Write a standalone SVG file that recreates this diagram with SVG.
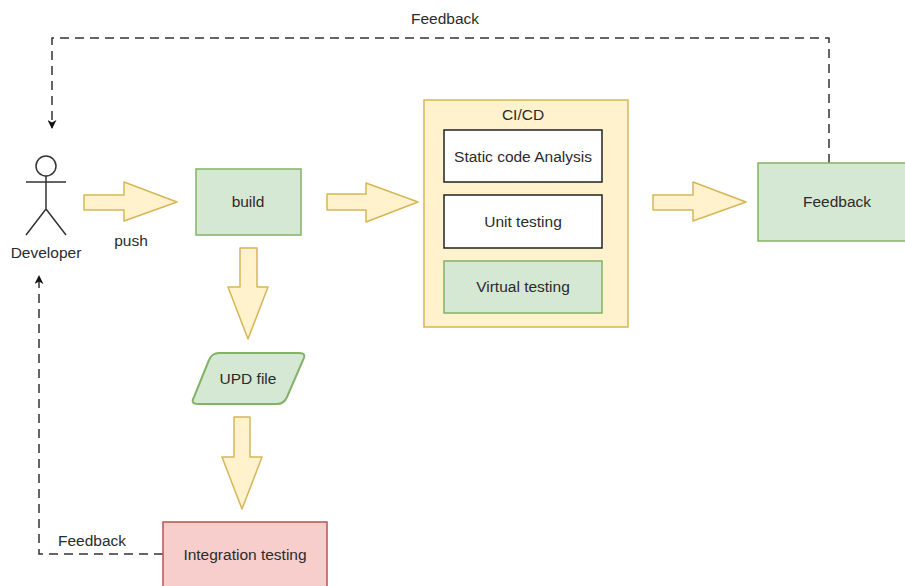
<svg xmlns="http://www.w3.org/2000/svg" width="905" height="586" viewBox="0 0 905 586">
  <style>
    text { font-family: "Liberation Sans", Arial, sans-serif; font-size: 15.5px; fill: #2b2b2b; text-anchor: middle; dominant-baseline: central; }
    .green { fill: #d5e8d4; stroke: #82b366; stroke-width: 1.5; }
    .yellow { fill: #fff2cc; stroke: #d6b656; stroke-width: 1.5; }
    .white { fill: #ffffff; stroke: #222222; stroke-width: 1.5; }
    .red { fill: #f8cecc; stroke: #b85450; stroke-width: 1.5; }
    .flex { fill: #fff2cc; stroke: #d6b656; stroke-width: 1.5; stroke-linejoin: round; }
    .dash { fill: none; stroke: #333333; stroke-width: 1.5; stroke-dasharray: 9 6; }
    .actor { fill: none; stroke: #333333; stroke-width: 1.5; }
  </style>
  <defs>
    <marker id="arr" viewBox="0 0 10 10" refX="9" refY="5" markerWidth="9" markerHeight="9" orient="auto" markerUnits="userSpaceOnUse">
      <path d="M0,0 L10,5 L0,10 L3,5 z" fill="#111111"/>
    </marker>
  </defs>
  <rect width="905" height="586" fill="#ffffff"/>

  <g id="connectors">
    <path class="dash" d="M829,163 V38 H52 V128" marker-end="url(#arr)"/>
    <path class="dash" d="M163,554 H39 V276" marker-end="url(#arr)"/>
    <path id="arrow-push" class="flex" d="M84,195 H124 V182 L177,202 L124,221 V210 H84 Z"/>
    <path id="arrow-build-cicd" class="flex" d="M327,194 H366 V183 L418,202 L366,222 V210 H327 Z"/>
    <path id="arrow-cicd-feedback" class="flex" d="M653,195 H693 V182 L746,202 L693,221 V210 H653 Z"/>
    <path id="arrow-build-upd" class="flex" d="M240,248 H257 V287 H268 L248,339 L228,287 H240 Z"/>
    <path id="arrow-upd-integration" class="flex" d="M234,417 H250 V457 H262 L242,509 L222,457 H234 Z"/>
    <text x="445" y="18">Feedback</text>
    <text x="131" y="240">push</text>
    <text x="92" y="540">Feedback</text>
  </g>

  <g id="developer">
    <circle class="actor" cx="46" cy="166" r="10"/>
    <path class="actor" d="M46,176 V209 M26,182 H66 M26,235 L46,209 L66,235"/>
    <text x="46" y="252">Developer</text>
  </g>

  <g id="build">
    <rect class="green" x="196" y="169" width="105" height="66"/>
    <text x="248" y="201">build</text>
  </g>

  <g id="cicd">
    <rect class="yellow" x="424" y="100" width="204" height="227"/>
    <text x="523" y="114">CI/CD</text>
  </g>

  <g id="static-code-analysis">
    <rect class="white" x="444" y="130" width="158" height="52"/>
    <text x="523" y="156">Static code Analysis</text>
  </g>

  <g id="unit-testing">
    <rect class="white" x="444" y="195" width="158" height="53"/>
    <text x="523" y="221">Unit testing</text>
  </g>

  <g id="virtual-testing">
    <rect class="green" x="444" y="261" width="158" height="52"/>
    <text x="523" y="286">Virtual testing</text>
  </g>

  <g id="feedback">
    <rect class="green" x="758" y="163" width="160" height="78"/>
    <text x="837" y="201">Feedback</text>
  </g>

  <g id="upd-file">
    <path class="green" style="stroke-width:2" d="M219,353 H299 Q307,353 303,360 L287,397 Q284,404 277,404 H198 Q190,404 194,397 L209,360 Q212,353 219,353 Z"/>
    <text x="248" y="378">UPD file</text>
  </g>

  <g id="integration-testing">
    <rect class="red" x="163" y="522" width="164" height="80"/>
    <text x="245" y="554">Integration testing</text>
  </g>
</svg>
